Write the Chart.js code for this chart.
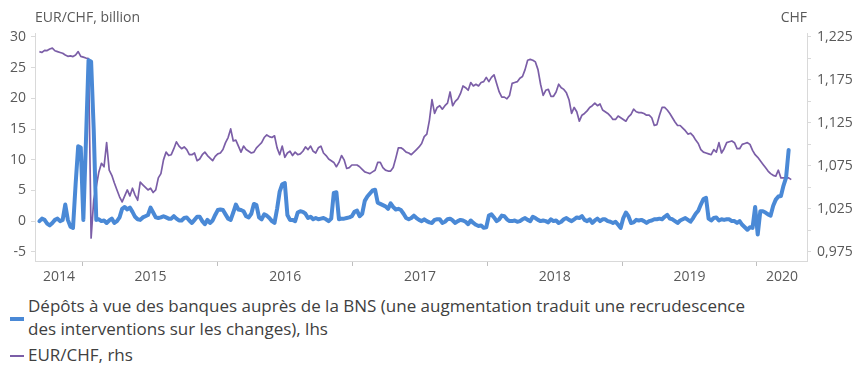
<!DOCTYPE html>
<html>
<head>
<meta charset="utf-8">
<script src="https://cdn.jsdelivr.net/npm/chart.js@4.4.1/dist/chart.umd.min.js"></script>
<style>
  html, body { margin: 0; padding: 0; background: #fff; }
  #wrap { position: relative; width: 860px; height: 378px; overflow: hidden; }
  #chart { position: absolute; left: 0; top: 0; }
  .lg-text { position: absolute; left: 28px; font: 17px 'Open Sans', sans-serif; line-height: 23px; color: #404040; white-space: nowrap; }
  .lg-mark { position: absolute; left: 10px; width: 14px; }
</style>
</head>
<body>
<div id="wrap">
  <canvas id="chart" width="860" height="290"></canvas>
  <div class="lg-mark" style="top:317px;height:4px;background:#4a89d6"></div>
  <div class="lg-text" style="top:294px">Dépôts à vue des banques auprès de la BNS (une augmentation traduit une recrudescence<br>des interventions sur les changes), lhs</div>
  <div class="lg-mark" style="top:355px;height:2px;background:#7b5ea7"></div>
  <div class="lg-text" style="top:343px">EUR/CHF, rhs</div>
</div>
<script>
// weekly observations, first one on Friday 5 Sept 2014
const START_DAY = Date.UTC(2014, 8, 5);

// weekly change of sight deposits, CHF bn (lhs)
const DEPOSITS = [
  0.0, 0.4, 0.2, -0.4, -0.7, -0.3, 0.2, 0.4, 0.0, 0.2,
  2.7, 0.2, -0.9, -1.1, 6.0, 12.2, 12.0, 0.2, 13.0, 26.2,
  26.0, 15.0, 0.2, 0.3, 0.0, 0.1, -0.3, 0.1, 0.4, -0.3,
  0.0, 0.6, 2.0, 2.3, 1.9, 2.2, 1.5, 0.7, 0.3, 0.2,
  0.6, 0.8, 1.0, 2.2, 1.4, 0.6, 0.5, 0.6, 0.8, 0.6,
  0.4, 0.4, 0.8, 0.4, 0.1, 0.1, 0.5, 0.6, 0.1, -0.3,
  0.2, 0.7, 0.7, 0.0, -0.5, 0.2, -0.3, 0.1, 1.0, 1.8,
  1.9, 1.8, 1.1, 0.4, 0.2, 1.4, 2.7, 1.9, 1.8, 1.6,
  0.8, 0.6, 1.2, 2.8, 2.6, 0.6, 0.3, 1.1, 0.9, 0.5,
  0.0, -0.3, 2.0, 4.8, 6.0, 6.2, 1.0, 0.2, 0.2, 0.0,
  1.4, 1.6, 1.5, 1.2, 0.5, 0.7, 0.3, 0.5, 0.3, 0.4,
  0.5, 0.3, 0.0, 0.4, 4.6, 4.7, 0.3, 0.4, 0.4, 0.5,
  0.6, 0.8, 1.5, 1.7, 0.8, 1.2, 3.3, 4.0, 4.5, 5.0,
  5.1, 3.0, 2.8, 2.6, 2.4, 2.0, 2.9, 2.3, 1.9, 2.0,
  1.8, 1.2, 0.5, 0.3, 0.5, 0.9, 0.5, 0.2, 0.0, 0.3,
  0.0, -0.2, -0.3, 0.2, 0.3, 0.3, -0.3, -0.1, 0.3, 0.4,
  0.1, -0.3, 0.0, 0.2, 0.1, -0.1, -0.5, 0.1, -0.3, -0.6,
  -0.8, -0.7, -1.1, -1.0, 0.9, 1.1, 0.6, 0.0, 0.3, 0.9,
  0.8, 0.3, 0.0, 0.0, 0.1, -0.1, 0.0, 0.3, 0.5, 0.2,
  0.0, 0.7, 0.5, 0.2, 0.0, 0.1, 0.0, -0.2, 0.3, 0.0,
  0.1, -0.3, -0.1, 0.3, 0.5, 0.2, 0.0, 0.3, 0.6, 0.5,
  0.8, 0.2, 0.0, 0.3, -0.3, 0.1, 0.4, 0.0, 0.3, 0.3,
  0.0, -0.1, -0.3, -0.1, -0.6, -1.1, 0.5, 1.4, 0.8, -0.3,
  -0.2, 0.2, 0.1, 0.2, 0.0, -0.3, 0.0, 0.1, 0.3, 0.3,
  0.4, 0.3, 0.7, 1.0, 0.4, 0.3, 0.0, -0.3, 0.1, 0.3,
  0.5, 0.2, -0.1, 0.5, 1.2, 1.7, 2.7, 3.6, 3.8, 0.4,
  0.1, 0.5, 0.6, 0.1, 0.3, 0.2, 0.3, 0.3, 0.0, 0.0,
  -0.3, 0.0, -0.6, -1.0, -1.4, -1.0, -1.1, 2.3, -2.2, 1.6,
  1.6, 1.4, 1.1, 0.9, 2.5, 3.5, 4.0, 4.1, 5.8, 7.1,
  11.6
];

// EUR/CHF weekly (rhs)
const EURCHF = [
  1.208, 1.207, 1.2095, 1.2092, 1.211, 1.212, 1.209, 1.208, 1.207, 1.206,
  1.204, 1.2025, 1.203, 1.2022, 1.204, 1.208, 1.2025, 1.2015, 1.2005, 1.200,
  0.991, 1.035, 1.051, 1.068, 1.078, 1.074, 1.102, 1.070, 1.064, 1.055,
  1.047, 1.039, 1.033, 1.040, 1.047, 1.040, 1.049, 1.041, 1.035, 1.056,
  1.053, 1.050, 1.047, 1.049, 1.044, 1.047, 1.061, 1.066, 1.082, 1.091,
  1.087, 1.088, 1.095, 1.103, 1.098, 1.095, 1.097, 1.094, 1.088, 1.088,
  1.090, 1.081, 1.083, 1.088, 1.091, 1.087, 1.084, 1.081, 1.086, 1.089,
  1.090, 1.094, 1.102, 1.108, 1.118, 1.104, 1.105, 1.098, 1.091, 1.098,
  1.094, 1.092, 1.090, 1.091, 1.096, 1.099, 1.102, 1.108, 1.111, 1.109,
  1.108, 1.110, 1.096, 1.088, 1.098, 1.085, 1.090, 1.092, 1.087, 1.091,
  1.088, 1.089, 1.092, 1.097, 1.094, 1.098, 1.092, 1.090, 1.096, 1.098,
  1.090, 1.087, 1.083, 1.081, 1.079, 1.074, 1.079, 1.087, 1.082, 1.072,
  1.073, 1.076, 1.076, 1.076, 1.074, 1.071, 1.068, 1.067, 1.066, 1.068,
  1.070, 1.079, 1.079, 1.073, 1.070, 1.069, 1.069, 1.073, 1.084, 1.096,
  1.096, 1.094, 1.091, 1.090, 1.088, 1.091, 1.094, 1.097, 1.101, 1.109,
  1.112, 1.128, 1.152, 1.136, 1.143, 1.145, 1.141, 1.145, 1.148, 1.161,
  1.145, 1.150, 1.153, 1.159, 1.168, 1.166, 1.163, 1.172, 1.168, 1.170,
  1.168, 1.172, 1.173, 1.178, 1.173, 1.178, 1.181, 1.171, 1.161, 1.155,
  1.155, 1.153, 1.157, 1.171, 1.172, 1.173, 1.177, 1.179, 1.187, 1.198,
  1.199, 1.198, 1.196, 1.187, 1.170, 1.157, 1.163, 1.164, 1.156, 1.156,
  1.161, 1.170, 1.166, 1.164, 1.160, 1.152, 1.136, 1.143, 1.138, 1.127,
  1.134, 1.136, 1.139, 1.143, 1.145, 1.148, 1.145, 1.147, 1.140, 1.138,
  1.136, 1.133, 1.129, 1.129, 1.133, 1.131, 1.129, 1.127, 1.132, 1.135,
  1.141, 1.138, 1.137, 1.137, 1.136, 1.134, 1.134, 1.131, 1.122, 1.123,
  1.134, 1.143, 1.143, 1.140, 1.136, 1.131, 1.126, 1.122, 1.122, 1.119,
  1.116, 1.112, 1.113, 1.110, 1.105, 1.101, 1.094, 1.091, 1.090, 1.089,
  1.088, 1.094, 1.091, 1.102, 1.090, 1.095, 1.102, 1.103, 1.104, 1.102,
  1.095, 1.095, 1.100, 1.101, 1.102, 1.100, 1.093, 1.088, 1.085, 1.081,
  1.077, 1.073, 1.069, 1.066, 1.064, 1.063, 1.070, 1.061, 1.061, 1.061,
  1.061, 1.059
];

// axes
const LEFT_TICKS = [-5, 0, 5, 10, 15, 20, 25, 30];
const RIGHT_TICKS = [0.975, 1.0, 1.025, 1.05, 1.075, 1.1, 1.125, 1.15, 1.175, 1.2, 1.225];
const YEAR_STARTS = [2015, 2016, 2017, 2018, 2019, 2020];
const YEAR_LABELS = ['2014', '2015', '2016', '2017', '2018', '2019', '2020'];
const X_MIN = 2014.644, X_MAX = 2020.371;
const L_MIN = -6.5, L_MAX = 30.65;
// right axis is tied to left one: -5 <-> 0.975, 30 <-> 1.225
const toRight = v => 0.975 + (v + 5) * 0.25 / 35;

const BLUE = '#4a89d6';
const PURPLE = '#7b5ea7';
const AXIS_GREY = '#d9d9d9';
const LABEL_GREY = '#595959';

function decYear(ms) {
  const y = new Date(ms).getUTCFullYear();
  const a = Date.UTC(y, 0, 1), b = Date.UTC(y + 1, 0, 1);
  return y + (ms - a) / (b - a);
}
const weekX = i => decYear(START_DAY + i * 7 * 86400000);

// year labels sit in the middle of each visible year
const yearMids = YEAR_LABELS.map((_, i) => {
  const a = Math.max(2014 + i, X_MIN), b = Math.min(2015 + i, X_MAX);
  return (a + b) / 2;
});
const isBoundary = v => YEAR_STARTS.some(y => Math.abs(y - v) < 1e-6);

Chart.defaults.font.family = "'Open Sans', sans-serif";

const axisTitles = {
  id: 'axisTitles',
  afterDraw(chart) {
    const { ctx, chartArea } = chart;
    ctx.save();
    ctx.font = "14px 'Open Sans', sans-serif";
    ctx.fillStyle = LABEL_GREY;
    ctx.textBaseline = 'alphabetic';
    ctx.textAlign = 'left';
    ctx.fillText('EUR/CHF, billion', chartArea.left, 22);
    ctx.textAlign = 'right';
    ctx.fillText('CHF', chartArea.right, 22);
    ctx.restore();
  }
};

new Chart(document.getElementById('chart'), {
  type: 'line',
  data: {
    datasets: [
      {
        label: 'Dépôts à vue des banques auprès de la BNS (une augmentation traduit une recrudescence des interventions sur les changes), lhs',
        data: DEPOSITS.map((v, i) => ({ x: weekX(i), y: v })),
        yAxisID: 'yL',
        borderColor: BLUE,
        borderWidth: 4,
        borderJoinStyle: 'round',
        borderCapStyle: 'round',
        pointRadius: 0,
        tension: 0,
        order: 0,
      },
      {
        label: 'EUR/CHF, rhs',
        data: EURCHF.map((v, i) => ({ x: weekX(i), y: v })),
        yAxisID: 'yR',
        borderColor: PURPLE,
        borderWidth: 1.7,
        borderJoinStyle: 'round',
        pointRadius: 0,
        tension: 0,
        order: 1,
      },
    ],
  },
  options: {
    responsive: false,
    animation: false,
    devicePixelRatio: 1,
    layout: { padding: { top: 33, left: 0, right: 0, bottom: 0 } },
    plugins: {
      legend: { display: false },
      tooltip: { enabled: false },
    },
    scales: {
      x: {
        type: 'linear',
        min: X_MIN,
        max: X_MAX,
        afterBuildTicks(axis) {
          const vals = YEAR_STARTS.concat(yearMids).sort((a, b) => a - b);
          axis.ticks = vals.map(v => ({ value: v }));
        },
        afterFit(axis) { axis.height = 29; },
        ticks: {
          autoSkip: false,
          maxRotation: 0,
          padding: 3,
          color: LABEL_GREY,
          font: { size: 14 },
          callback(value) {
            const k = yearMids.findIndex(m => Math.abs(m - value) < 1e-6);
            return k >= 0 ? YEAR_LABELS[k] : '';
          },
        },
        grid: {
          drawOnChartArea: false,
          drawTicks: true,
          tickLength: 5,
          color: ctx => (ctx.tick && isBoundary(ctx.tick.value)) ? '#bfbfbf' : 'rgba(0,0,0,0)',
        },
        border: { display: true, color: AXIS_GREY },
      },
      yL: {
        position: 'left',
        min: L_MIN,
        max: L_MAX,
        afterBuildTicks(axis) { axis.ticks = LEFT_TICKS.map(v => ({ value: v })); },
        afterFit(axis) { axis.width = 35; },
        ticks: {
          padding: 5,
          color: LABEL_GREY,
          font: { size: 14 },
        },
        grid: { drawOnChartArea: false, drawTicks: true, tickLength: 4, color: AXIS_GREY },
        border: { display: true, color: AXIS_GREY },
      },
      yR: {
        position: 'right',
        min: toRight(L_MIN),
        max: toRight(L_MAX),
        afterBuildTicks(axis) { axis.ticks = RIGHT_TICKS.map(v => ({ value: v })); },
        afterFit(axis) { axis.width = 53; },
        ticks: {
          padding: 6,
          color: LABEL_GREY,
          font: { size: 14 },
          callback(value) {
            return Math.round(value * 1000) % 50 === 25 ? value.toFixed(3).replace('.', ',') : '';
          },
        },
        grid: { drawOnChartArea: false, drawTicks: true, tickLength: 4, color: AXIS_GREY },
        border: { display: true, color: AXIS_GREY },
      },
    },
  },
  plugins: [axisTitles],
});
</script>
</body>
</html>
